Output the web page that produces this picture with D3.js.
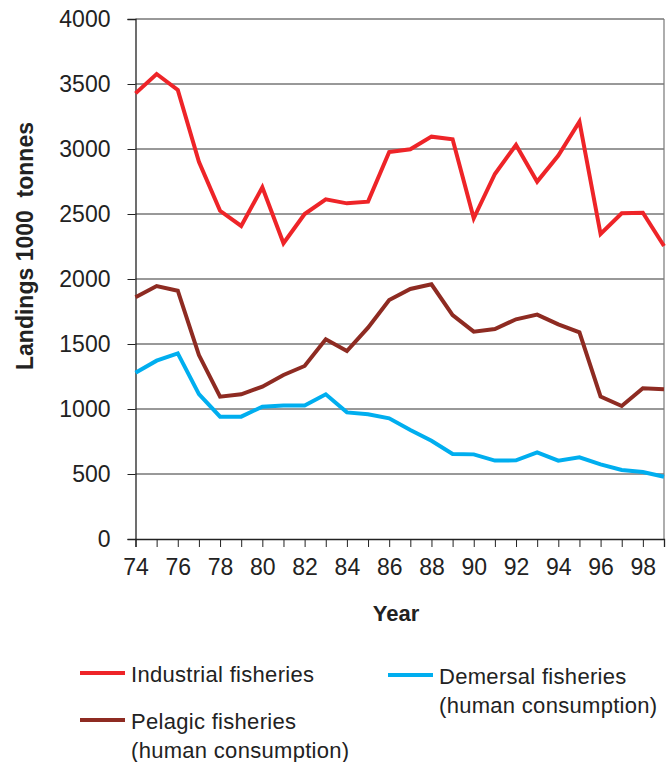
<!DOCTYPE html>
<html>
<head>
<meta charset="utf-8">
<script src="https://cdn.jsdelivr.net/npm/d3@7"></script>
<style>
  html, body { margin: 0; padding: 0; background: #fff; }
  svg text { font-family: "Liberation Sans", Arial, sans-serif; fill: #222; }
</style>
</head>
<body>
<svg id="chart" width="670" height="762"></svg>
<script>
// Landings by fishery type, 1974–1999 (thousand tonnes)
const years = d3.range(74, 100);
const industrial = [3428, 3577, 3454, 2902, 2525, 2408, 2705, 2275, 2500, 2613,
                    2582, 2595, 2977, 2998, 3095, 3075, 2467, 2808, 3031, 2749,
                    2949, 3210, 2346, 2505, 2510, 2254];
const pelagic = [1859, 1946, 1910, 1415, 1095, 1113, 1172, 1262, 1331, 1536,
                 1446, 1626, 1838, 1923, 1959, 1723, 1595, 1615, 1690, 1726,
                 1651, 1590, 1095, 1023, 1159, 1151];
const demersal = [1279, 1372, 1428, 1115, 941, 941, 1018, 1026, 1026, 1113,
                  974, 959, 928, 838, 756, 654, 651, 603, 605, 667,
                  603, 628, 574, 531, 515, 479];
const yTicks = [0, 500, 1000, 1500, 2000, 2500, 3000, 3500, 4000];

const series = [
  { name: "Industrial fisheries", values: industrial, color: "#ee2428" },
  { name: "Pelagic fisheries", values: pelagic, color: "#8e2b22" },
  { name: "Demersal fisheries", values: demersal, color: "#00aeef" }
];

const svg = d3.select("#chart");
const L = 135.5, R = 664, T = 19, B = 539;

const x = d3.scaleLinear().domain([74, 99]).range([L, R]);
const y = d3.scaleLinear().domain([0, 4000]).range([B, T]);

// horizontal gridlines
svg.append("g")
  .selectAll("line")
  .data(yTicks.filter(d => d > 0))
  .join("line")
  .attr("x1", L).attr("x2", R)
  .attr("y1", d => y(d)).attr("y2", d => y(d))
  .attr("stroke", "#333").attr("stroke-width", 1);

// right border
svg.append("line")
  .attr("x1", R).attr("x2", R).attr("y1", T).attr("y2", B)
  .attr("stroke", "#777").attr("stroke-width", 1.2);

// y axis
const yAxis = svg.append("g")
  .attr("transform", `translate(${L},0)`)
  .call(d3.axisLeft(y).tickValues(yTicks).tickSize(8).tickPadding(17).tickFormat(d3.format("d")));
yAxis.select(".domain").attr("stroke", "#222").attr("stroke-width", 1.3);
yAxis.selectAll(".tick line").attr("stroke", "#222");
yAxis.selectAll("text").attr("font-size", 23).attr("fill", "#222")
  .attr("font-family", "Liberation Sans, Arial, sans-serif");

// x axis: a tick every year, a label every two years
const xAxis = svg.append("g")
  .attr("transform", `translate(0,${B})`)
  .call(d3.axisBottom(x).tickValues(years).tickSize(8).tickPadding(12)
    .tickFormat(d => (d % 2 === 0 ? d : "")));
xAxis.select(".domain").attr("stroke", "#222").attr("stroke-width", 1.3);
xAxis.selectAll(".tick line").attr("stroke", "#222");
xAxis.selectAll("text").attr("font-size", 23).attr("fill", "#222")
  .attr("font-family", "Liberation Sans, Arial, sans-serif");

// series lines
const line = d3.line()
  .x((d, i) => x(years[i]))
  .y(d => y(d));

svg.append("g")
  .selectAll("path")
  .data(series)
  .join("path")
  .attr("d", d => line(d.values))
  .attr("fill", "none")
  .attr("stroke", d => d.color)
  .attr("stroke-width", 4)
  .attr("stroke-linejoin", "miter");

// axis titles
svg.append("text")
  .attr("transform", "translate(33,246) rotate(-90)")
  .attr("text-anchor", "middle")
  .attr("font-size", 23).attr("font-weight", "bold")
  .style("white-space", "pre")
  .text("Landings 1000  tonnes");

svg.append("text")
  .attr("x", 396).attr("y", 621)
  .attr("text-anchor", "middle")
  .attr("font-size", 22).attr("font-weight", "bold")
  .text("Year");

// legend
const legend = [
  { s: series[0], lx: 80, ly: 673, lines: ["Industrial fisheries"] },
  { s: series[2], lx: 388, ly: 675, lines: ["Demersal fisheries", "(human consumption)"] },
  { s: series[1], lx: 80, ly: 720, lines: ["Pelagic fisheries", "(human consumption)"] }
];
const lg = svg.append("g").selectAll("g").data(legend).join("g");
lg.append("line")
  .attr("x1", d => d.lx).attr("x2", d => d.lx + 45)
  .attr("y1", d => d.ly).attr("y2", d => d.ly)
  .attr("stroke", d => d.s.color).attr("stroke-width", 4);
lg.each(function (d) {
  const t = d3.select(this).append("text")
    .attr("font-size", 22)
    .attr("letter-spacing", 0.3);
  d.lines.forEach((ln, i) => {
    t.append("tspan")
      .attr("x", d.lx + 51)
      .attr("y", d.ly + 9 + i * 29)
      .text(ln);
  });
});
</script>
</body>
</html>
